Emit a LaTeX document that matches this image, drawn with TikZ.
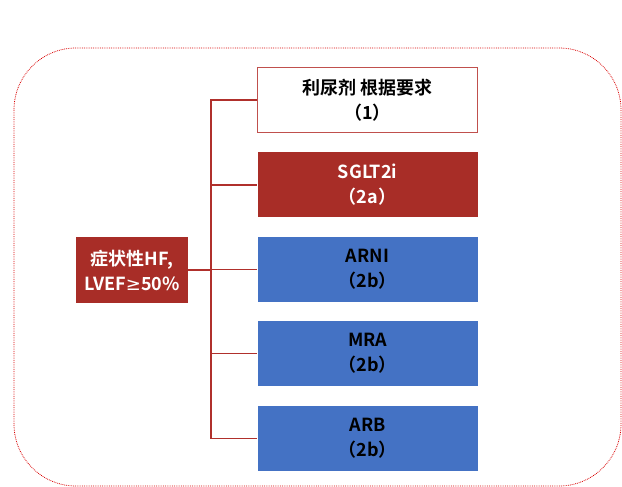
\documentclass[tikz,border=0pt]{standalone}
\usepackage{fontspec}
\setmainfont{Noto Sans CJK SC}[BoldFont={Noto Sans CJK SC Bold}]
\newfontfamily\mathsym{DejaVu Sans}
\usetikzlibrary{positioning}

\definecolor{hfred}{HTML}{A82D27}
\definecolor{hfblue}{HTML}{4472C4}
\definecolor{hfline}{HTML}{B0302C}
\definecolor{hfedge}{HTML}{C0504D}

\begin{document}
\begin{tikzpicture}[
    x=1pt, y=-1pt,
    font=\fontsize{18}{25}\selectfont\bfseries,
    % Style for the boxes on the right
    drug/.style={
        minimum width=220pt,
        minimum height=65pt,
        align=center,
        inner sep=0pt
    },
    % Style for the tree connectors
    link/.style={
        hfline,
        line width=1.2pt
    }
]

% --- Frame ---
\useasboundingbox (0,0) rectangle (622,487);
\draw[red!85!black, densely dotted, line width=0.8pt, rounded corners=62pt]
    (14,48) rectangle (621,486);

% --- Root box ---
\node[fill=hfred, text=white, align=center, minimum width=112pt,
      minimum height=66pt, inner sep=0pt] (hf) at (132,270)
    {症状性HF,\\LVEF{\mathsym\mdseries ≥}50\%};

% --- Recommended drugs ---
\node[drug, draw=hfedge, line width=1.2pt, fill=white, text=black,
      anchor=north west] (diuretic) at (257,67) {利尿剂 根据要求\\（1）};
\node[drug, fill=hfred, text=white, below=19pt of diuretic] (sglt) {SGLT2i\\（2a）};
\node[drug, fill=hfblue, text=black, below=19pt of sglt] (arni) {ARNI\\（2b）};
\node[drug, fill=hfblue, text=black, below=19pt of arni] (mra) {MRA\\（2b）};
\node[drug, fill=hfblue, text=black, below=19pt of mra] (arb) {ARB\\（2b）};

% --- Connectors ---
\coordinate (trunk) at (211,270);
\draw[link] (hf.east) -- (trunk);
\foreach \drugname in {diuretic, sglt, arni, mra, arb}
    \draw[link] (trunk) |- (\drugname.west);

\end{tikzpicture}
\end{document}
